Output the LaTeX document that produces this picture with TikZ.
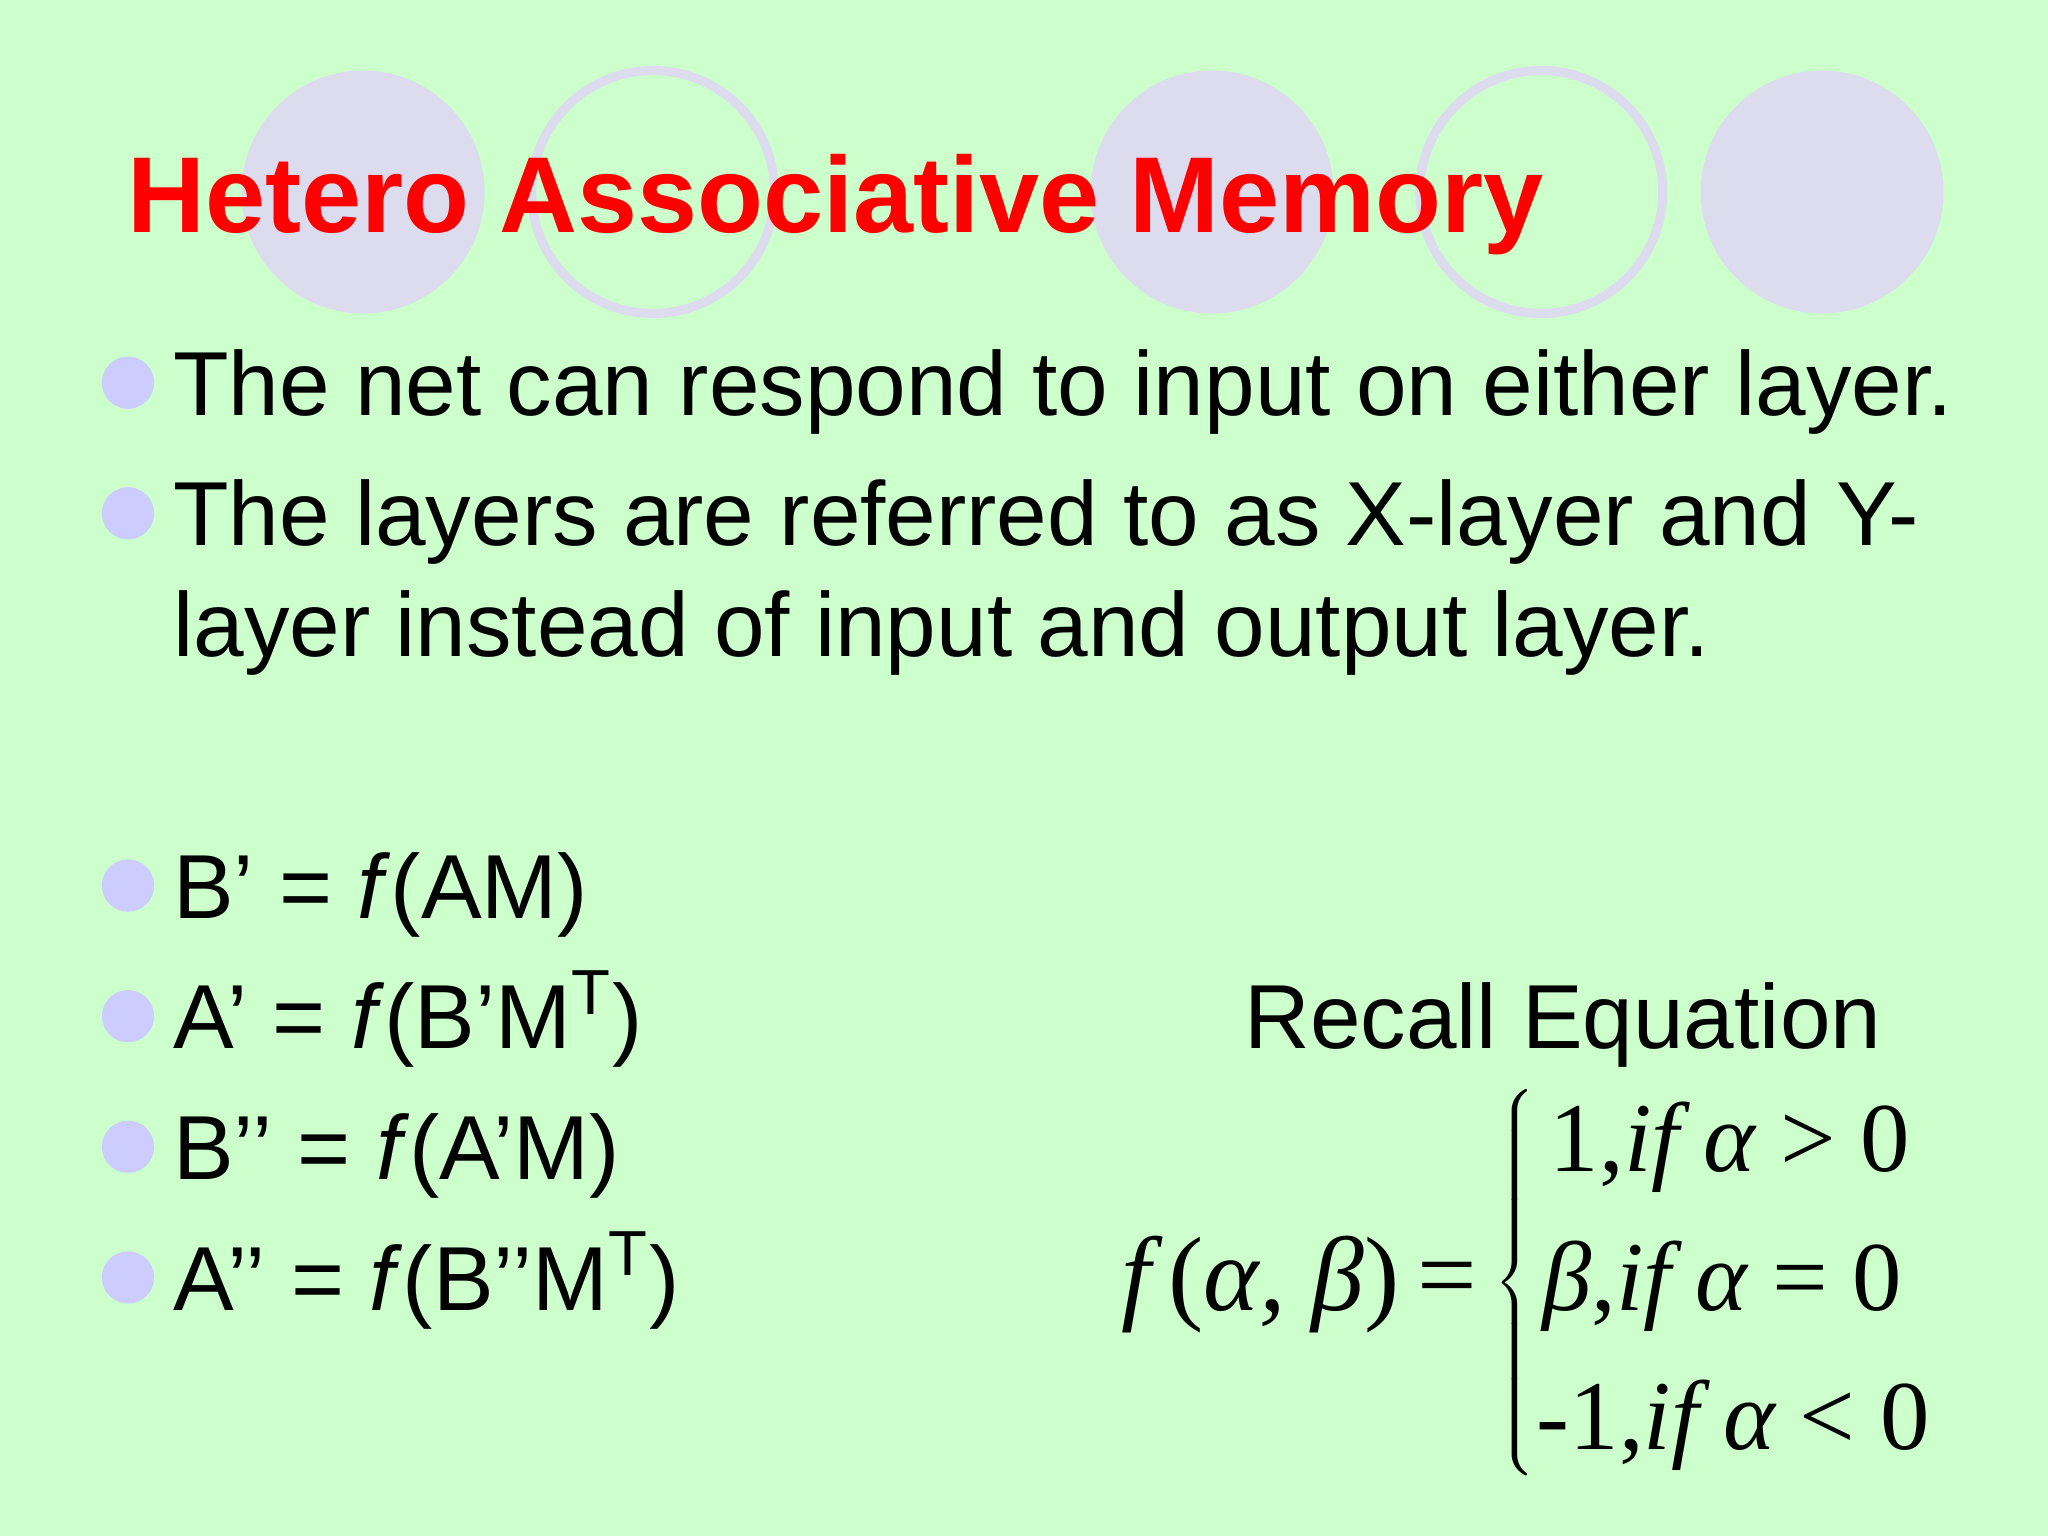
\documentclass[tikz,border=0pt]{standalone}
\usepackage{amsmath}
\usepackage{fontspec}
\setmainfont{Liberation Sans}
\newfontfamily\tms{Liberation Serif}
\definecolor{bg}{HTML}{CCFFCC}
\definecolor{lav}{HTML}{DCDCEE}
\definecolor{bul}{HTML}{CCCCFF}
\definecolor{ttl}{HTML}{FF0000}
\tikzset{
  disc/.style={fill=lav,draw=none},
  ring/.style={draw=lav,line width=2pt,fill=none},
  bullet/.style={circle,fill=bul,minimum size=0.4cm,inner sep=0},
  body/.style={anchor=base west,inner sep=0,font=\fontsize{19.8}{24}\selectfont},
  eqt/.style={anchor=base west,inner sep=0,font=\fontsize{21.5}{26}\selectfont\tms}
}
\begin{document}
\begin{tikzpicture}[x=0.01cm,y=-0.01cm]
\useasboundingbox (0,0) rectangle (1568,1176);
\fill[bg] (0,0) rectangle (1568,1176);
\fill[disc] (278,147) circle (93);
\fill[disc] (928,147) circle (93);
\fill[disc] (1395,147) circle (93);
\draw[ring] (500,147) circle (93);
\draw[ring] (1180,147) circle (93);
\node[anchor=base west,inner sep=0,text=ttl,font=\fontsize{23.5}{28}\selectfont\bfseries] (title) at (97,178) {Hetero Associative Memory};
\foreach \y/\n in {293/b1,393/b2,678/b3,778/b4,878/b5,978/b6}
  \node[bullet] (\n) at (98,\y) {};
\node[body] (t1) at (132,318) {The net can respond to input on either layer.};
\node[body] (t2) at (132,418) {The layers are referred to as X-layer and Y-};
\node[body] (t3) at (132,503) {layer instead of input and output layer.};
\node[body] (t4) at (132,703) {B’ = \textit{f}(AM)};
\node[body] (t5) at (132,803) {A’ = \textit{f}(B’M\textsuperscript{T})};
\node[body] (t6) at (132,903) {B’’ = \textit{f}(A’M)};
\node[body] (t7) at (132,1003) {A’’ = \textit{f}(B’’M\textsuperscript{T})};
\node[body] (rec) at (952,803) {Recall Equation};
\node[eqt,font=\fontsize{23}{28}\selectfont\tms] (lhs) at (858,1003) {\itshape f\,\upshape(\itshape α, β\upshape)\,=};
\node[inner sep=0] (brace) at (1162,985) {$\left\{\vrule height 1.45cm depth 1.45cm width 0pt\right.$};
\node[eqt] (r1) at (1186,897) {1,\itshape if α \upshape> 0};
\node[eqt] (r2) at (1180,1003) {\itshape β\upshape,\itshape if α \upshape= 0};
\node[eqt] (r3) at (1176,1110) {-1,\itshape if α \upshape< 0};
\end{tikzpicture}
\end{document}
